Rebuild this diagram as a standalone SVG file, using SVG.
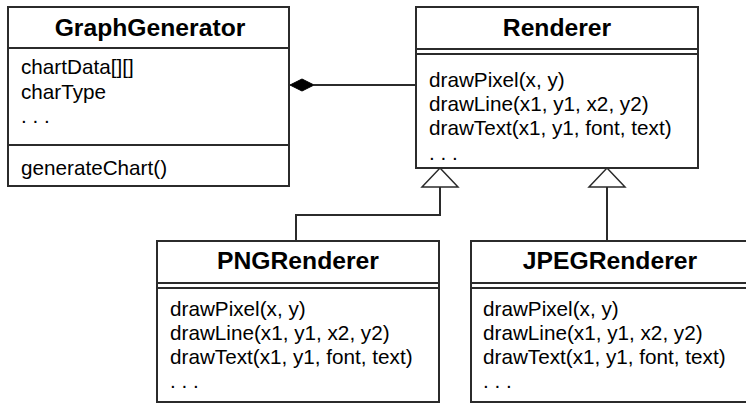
<svg xmlns="http://www.w3.org/2000/svg" width="746" height="404" viewBox="0 0 746 404">
  <defs>
    <style>
      .box { fill: #ffffff; stroke: #2b2b2b; stroke-width: 2; }
      .sep { stroke: #2b2b2b; stroke-width: 2; fill: none; }
      .edge { stroke: #2b2b2b; stroke-width: 2; fill: none; }
      .head { fill: #ffffff; stroke: #2b2b2b; stroke-width: 1.5; }
      .title { font-family: "Liberation Sans", Arial, sans-serif; font-weight: bold; font-size: 24.7px; fill: #000; text-anchor: middle; }
      .item { font-family: "Liberation Sans", Arial, sans-serif; font-size: 20.7px; fill: #000; }
    </style>
  </defs>

  <rect width="746" height="404" fill="#ffffff"/>

  <!-- connectors -->
  <g id="connectors">
    <!-- composition: GraphGenerator owns Renderer -->
    <line class="edge" x1="314" y1="85" x2="416" y2="85"/>
    <path d="M290 85 L302 79 L314 85 L302 91 Z" fill="#000" stroke="#000" stroke-width="1"/>
    <!-- PNGRenderer generalizes to Renderer -->
    <polyline class="edge" points="296,241 296,215 440,215 440,187"/>
    <path class="head" d="M440 168 L458 187 L422 187 Z"/>
    <!-- JPEGRenderer generalizes to Renderer -->
    <line class="edge" x1="607" y1="241" x2="607" y2="187"/>
    <path class="head" d="M607 168 L625 187 L589 187 Z"/>
  </g>

  <g id="GraphGenerator">
    <rect class="box" x="8" y="7" width="281" height="179"/>
    <line class="sep" x1="8" y1="48" x2="289" y2="48"/>
    <line class="sep" x1="8" y1="145" x2="289" y2="145"/>
    <text class="title" x="150" y="36">GraphGenerator</text>
    <text class="item" x="21" y="74">chartData[][]</text>
    <text class="item" x="21" y="99">charType</text>
    <text class="item" x="21" y="123">. . .</text>
    <text class="item" x="21" y="175">generateChart()</text>
  </g>

  <g id="Renderer">
    <rect class="box" x="416" y="7" width="282" height="161"/>
    <line class="sep" x1="416" y1="49" x2="698" y2="49"/>
    <line class="sep" x1="416" y1="54" x2="698" y2="54"/>
    <text class="title" x="557" y="36">Renderer</text>
    <text class="item" x="429" y="87">drawPixel(x, y)</text>
    <text class="item" x="429" y="111">drawLine(x1, y1, x2, y2)</text>
    <text class="item" x="429" y="135">drawText(x1, y1, font, text)</text>
    <text class="item" x="429" y="160">. . .</text>
  </g>

  <g id="PNGRenderer">
    <rect class="box" x="157" y="241" width="282" height="161"/>
    <line class="sep" x1="157" y1="283" x2="439" y2="283"/>
    <line class="sep" x1="157" y1="288" x2="439" y2="288"/>
    <text class="title" x="298" y="269">PNGRenderer</text>
    <text class="item" x="170" y="316">drawPixel(x, y)</text>
    <text class="item" x="170" y="340">drawLine(x1, y1, x2, y2)</text>
    <text class="item" x="170" y="364">drawText(x1, y1, font, text)</text>
    <text class="item" x="170" y="388">. . .</text>
  </g>

  <g id="JPEGRenderer">
    <rect class="box" x="471" y="241" width="282" height="161"/>
    <line class="sep" x1="471" y1="283" x2="753" y2="283"/>
    <line class="sep" x1="471" y1="288" x2="753" y2="288"/>
    <text class="title" x="610" y="269">JPEGRenderer</text>
    <text class="item" x="483" y="316">drawPixel(x, y)</text>
    <text class="item" x="483" y="340">drawLine(x1, y1, x2, y2)</text>
    <text class="item" x="483" y="364">drawText(x1, y1, font, text)</text>
    <text class="item" x="483" y="388">. . .</text>
  </g>
</svg>
